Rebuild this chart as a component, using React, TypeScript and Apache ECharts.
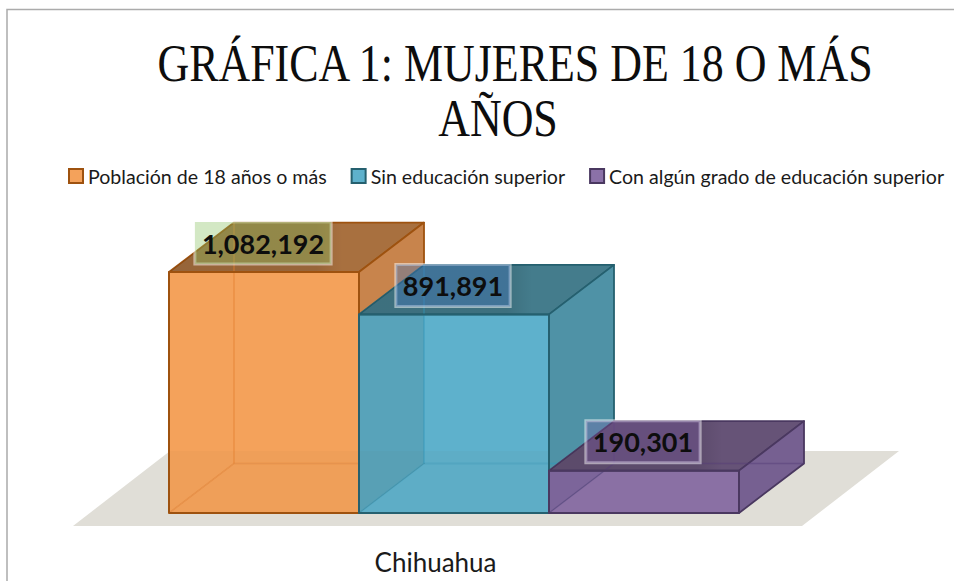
import React, { useEffect, useRef } from "react";
import * as echarts from "echarts";

const titleLines = ["GRÁFICA 1: MUJERES DE 18 O MÁS", "AÑOS"];
const categories = ["Chihuahua"];
const seriesNames = [
  "Población de 18 años o más",
  "Sin educación superior",
  "Con algún grado de educación superior",
];
const seriesValues = [1082192, 891891, 190301];
const solids = ["#F4A25B", "#5EB1CC", "#8B71A8"];
const leftWalls = ["#F4A25B", "#58A3BA", "#7D669E"];
const tops = ["#A8703F", "#447C8C", "#665377"];
const sides = ["#C8844C", "#4F92A6", "#766091"];
const edges = ["#9E520F", "#25606F", "#4A3860"];
const inner = ["rgba(225,125,45,0.55)", "rgba(50,150,185,0.55)", "rgba(85,60,120,0.45)"];
const labelFills = ["rgba(140,195,100,0.38)", "rgba(70,120,190,0.40)", "rgba(125,90,170,0.30)"];

const DX = 65;
const DY = -49.5;
const FLOOR_BACK = 62;

function poly(pts: number[][], fill: any, stroke: string, lineWidth: number) {
  return {
    type: "polygon",
    shape: { points: pts },
    style: { fill, stroke, lineWidth, lineJoin: "round" },
  };
}

function renderBar(idx: number) {
  return (params: any, api: any) => {
    const slot = api.value(0);
    const val = api.value(1);
    const [x0, y0] = api.coord([slot, 0]);
    const [x1, y1] = api.coord([slot + 1, val]);
    const p = (x: number, y: number, d: number) => [x + DX * d, y + DY * d];
    const edge = edges[idx];
    const none = "none";
    const shade = {
      type: "linear",
      x: 0,
      y: 0,
      x2: 1,
      y2: 0,
      colorStops: [
        { offset: 0, color: "rgba(0,0,0,0.10)" },
        { offset: 0.58, color: "rgba(0,0,0,0.10)" },
        { offset: 0.68, color: "rgba(0,0,0,0)" },
        { offset: 1, color: "rgba(0,0,0,0)" },
      ],
    };
    const floorTop = Math.max(y1, y0 - FLOOR_BACK);
    const children: any[] = [
      // rear of the box, seen through the glass-like front
      poly([p(x0, y0, 1), p(x1, y0, 1), p(x1, y1, 1), p(x0, y1, 1)], solids[idx], none, 0),
      poly([p(x0, y0, 0), p(x0, y0, 1), p(x0, y1, 1), p(x0, y1, 0)], leftWalls[idx], none, 0),
      poly([p(x0, y0, 0), p(x1, y0, 0), p(x1, y0, 1), p(x0, y0, 1)], solids[idx], none, 0),
      poly([p(x0, floorTop, 0), p(x1, floorTop, 0), p(x1, y0, 0), p(x0, y0, 0)], "rgba(120,90,50,0.035)", none, 0),
      // lid and side
      poly([p(x0, y1, 0), p(x1, y1, 0), p(x1, y1, 1), p(x0, y1, 1)], tops[idx], edge, 1.8),
      poly([p(x0, y1, 0), p(x1, y1, 0), p(x1, y1, 1), p(x0, y1, 1)], shade, none, 0),
      poly([p(x1, y0, 0), p(x1, y0, 1), p(x1, y1, 1), p(x1, y1, 0)], sides[idx], edge, 1.8),
      // inner edges, visible through the faces
      { type: "polyline", shape: { points: [p(x0, y0, 0), p(x0, y0, 1), p(x1, y0, 1)] }, style: { fill: "none", stroke: inner[idx], lineWidth: 1.4 } },
      { type: "line", shape: { x1: x0 + DX, y1: y0 + DY, x2: x0 + DX, y2: y1 + DY }, style: { stroke: inner[idx], lineWidth: 1.4 } },
      // front outline
      poly([p(x0, y0, 0), p(x1, y0, 0), p(x1, y1, 0), p(x0, y1, 0)], "rgba(0,0,0,0)", edge, 2),
    ];
    return { type: "group", children };
  };
}

function renderLabel(idx: number) {
  return (params: any, api: any) => {
    const slot = api.value(0);
    const val = api.value(1);
    const [xa] = api.coord([slot, val]);
    const [xb, yb] = api.coord([slot + 1, val]);
    return {
      type: "text",
      x: (xa + xb) / 2 - 1,
      y: yb - 29,
      z2: 100,
      style: {
        text: val.toLocaleString("en-US"),
        x: 0,
        y: 0,
        align: "center",
        verticalAlign: "middle",
        fontFamily: "Lato",
        fontWeight: "bold",
        fontSize: 27,
        fill: "#0d0d0d",
        backgroundColor: labelFills[idx],
        borderColor: "rgba(255,255,255,0.5)",
        borderWidth: 1.5,
        padding: [7, 7, 8, 7],
      },
    };
  };
}

export default function App() {
  const ref = useRef<HTMLDivElement>(null);
  useEffect(() => {
    const chart = echarts.init(ref.current!, undefined, { renderer: "svg" });
    const barSeries = seriesNames.map((name, i) => ({
      type: "custom",
      name,
      xAxisIndex: 1,
      yAxisIndex: 1,
      z: 3 + i,
      itemStyle: { color: solids[i], borderColor: edges[i], borderWidth: 2 },
      renderItem: renderBar(i),
      data: [[i, seriesValues[i]]],
      clip: false,
    }));
    const labelSeries = seriesNames.map((name, i) => ({
      type: "custom",
      name: name + " label",
      xAxisIndex: 1,
      yAxisIndex: 1,
      z: 10 + i,
      renderItem: renderLabel(i),
      data: [[i, seriesValues[i]]],
      clip: false,
    }));
    chart.setOption({
      animation: false,
      backgroundColor: "#ffffff",
      graphic: [
        { type: "rect", shape: { x: 7, y: 9.5, width: 1000, height: 1000 }, style: { fill: "#fff", stroke: "#ababab", lineWidth: 1.5 }, z: -2 },
        { type: "polygon", shape: { points: [[73, 526], [802, 526], [899, 451], [170, 451]] }, style: { fill: "#E0DED7" }, z: -1 },
        { type: "text", x: 515, y: 63, scaleX: 0.845, style: { text: titleLines[0], align: "center", verticalAlign: "middle", fontFamily: "Liberation Serif", fontSize: 52, fill: "#0d0d0d" } },
        { type: "text", x: 498, y: 118, scaleX: 0.845, style: { text: titleLines[1], align: "center", verticalAlign: "middle", fontFamily: "Liberation Serif", fontSize: 52, fill: "#0d0d0d" } },
      ],
      legend: {
        left: 63,
        top: 161,
        itemWidth: 14,
        itemHeight: 14,
        itemGap: 24,
        icon: "rect",
        data: seriesNames,
        textStyle: { fontFamily: "Lato", fontSize: 19.6, color: "#1a1a1a" },
      },
      grid: [
        { left: 71, width: 729, top: 240, bottom: 581 - 513, containLabel: false },
        { left: 169, width: 570, top: 513 - 267.2, height: 267.2 },
      ],
      xAxis: [
        {
          type: "category",
          gridIndex: 0,
          data: categories,
          axisLine: { show: false },
          axisTick: { show: false },
          axisLabel: { fontFamily: "Lato", fontSize: 26, color: "#1a1a1a", margin: 36 },
        },
        { type: "value", gridIndex: 1, min: 0, max: 3, show: false },
      ],
      yAxis: [
        { type: "value", gridIndex: 0, min: 0, max: 1200000, show: false },
        { type: "value", gridIndex: 1, min: 0, max: 1200000, show: false },
      ],
      series: [...barSeries, ...labelSeries],
    });
    return () => chart.dispose();
  }, []);
  return <div ref={ref} style={{ position: "fixed", left: 0, top: 0, width: 954, height: 581 }} />;
}
